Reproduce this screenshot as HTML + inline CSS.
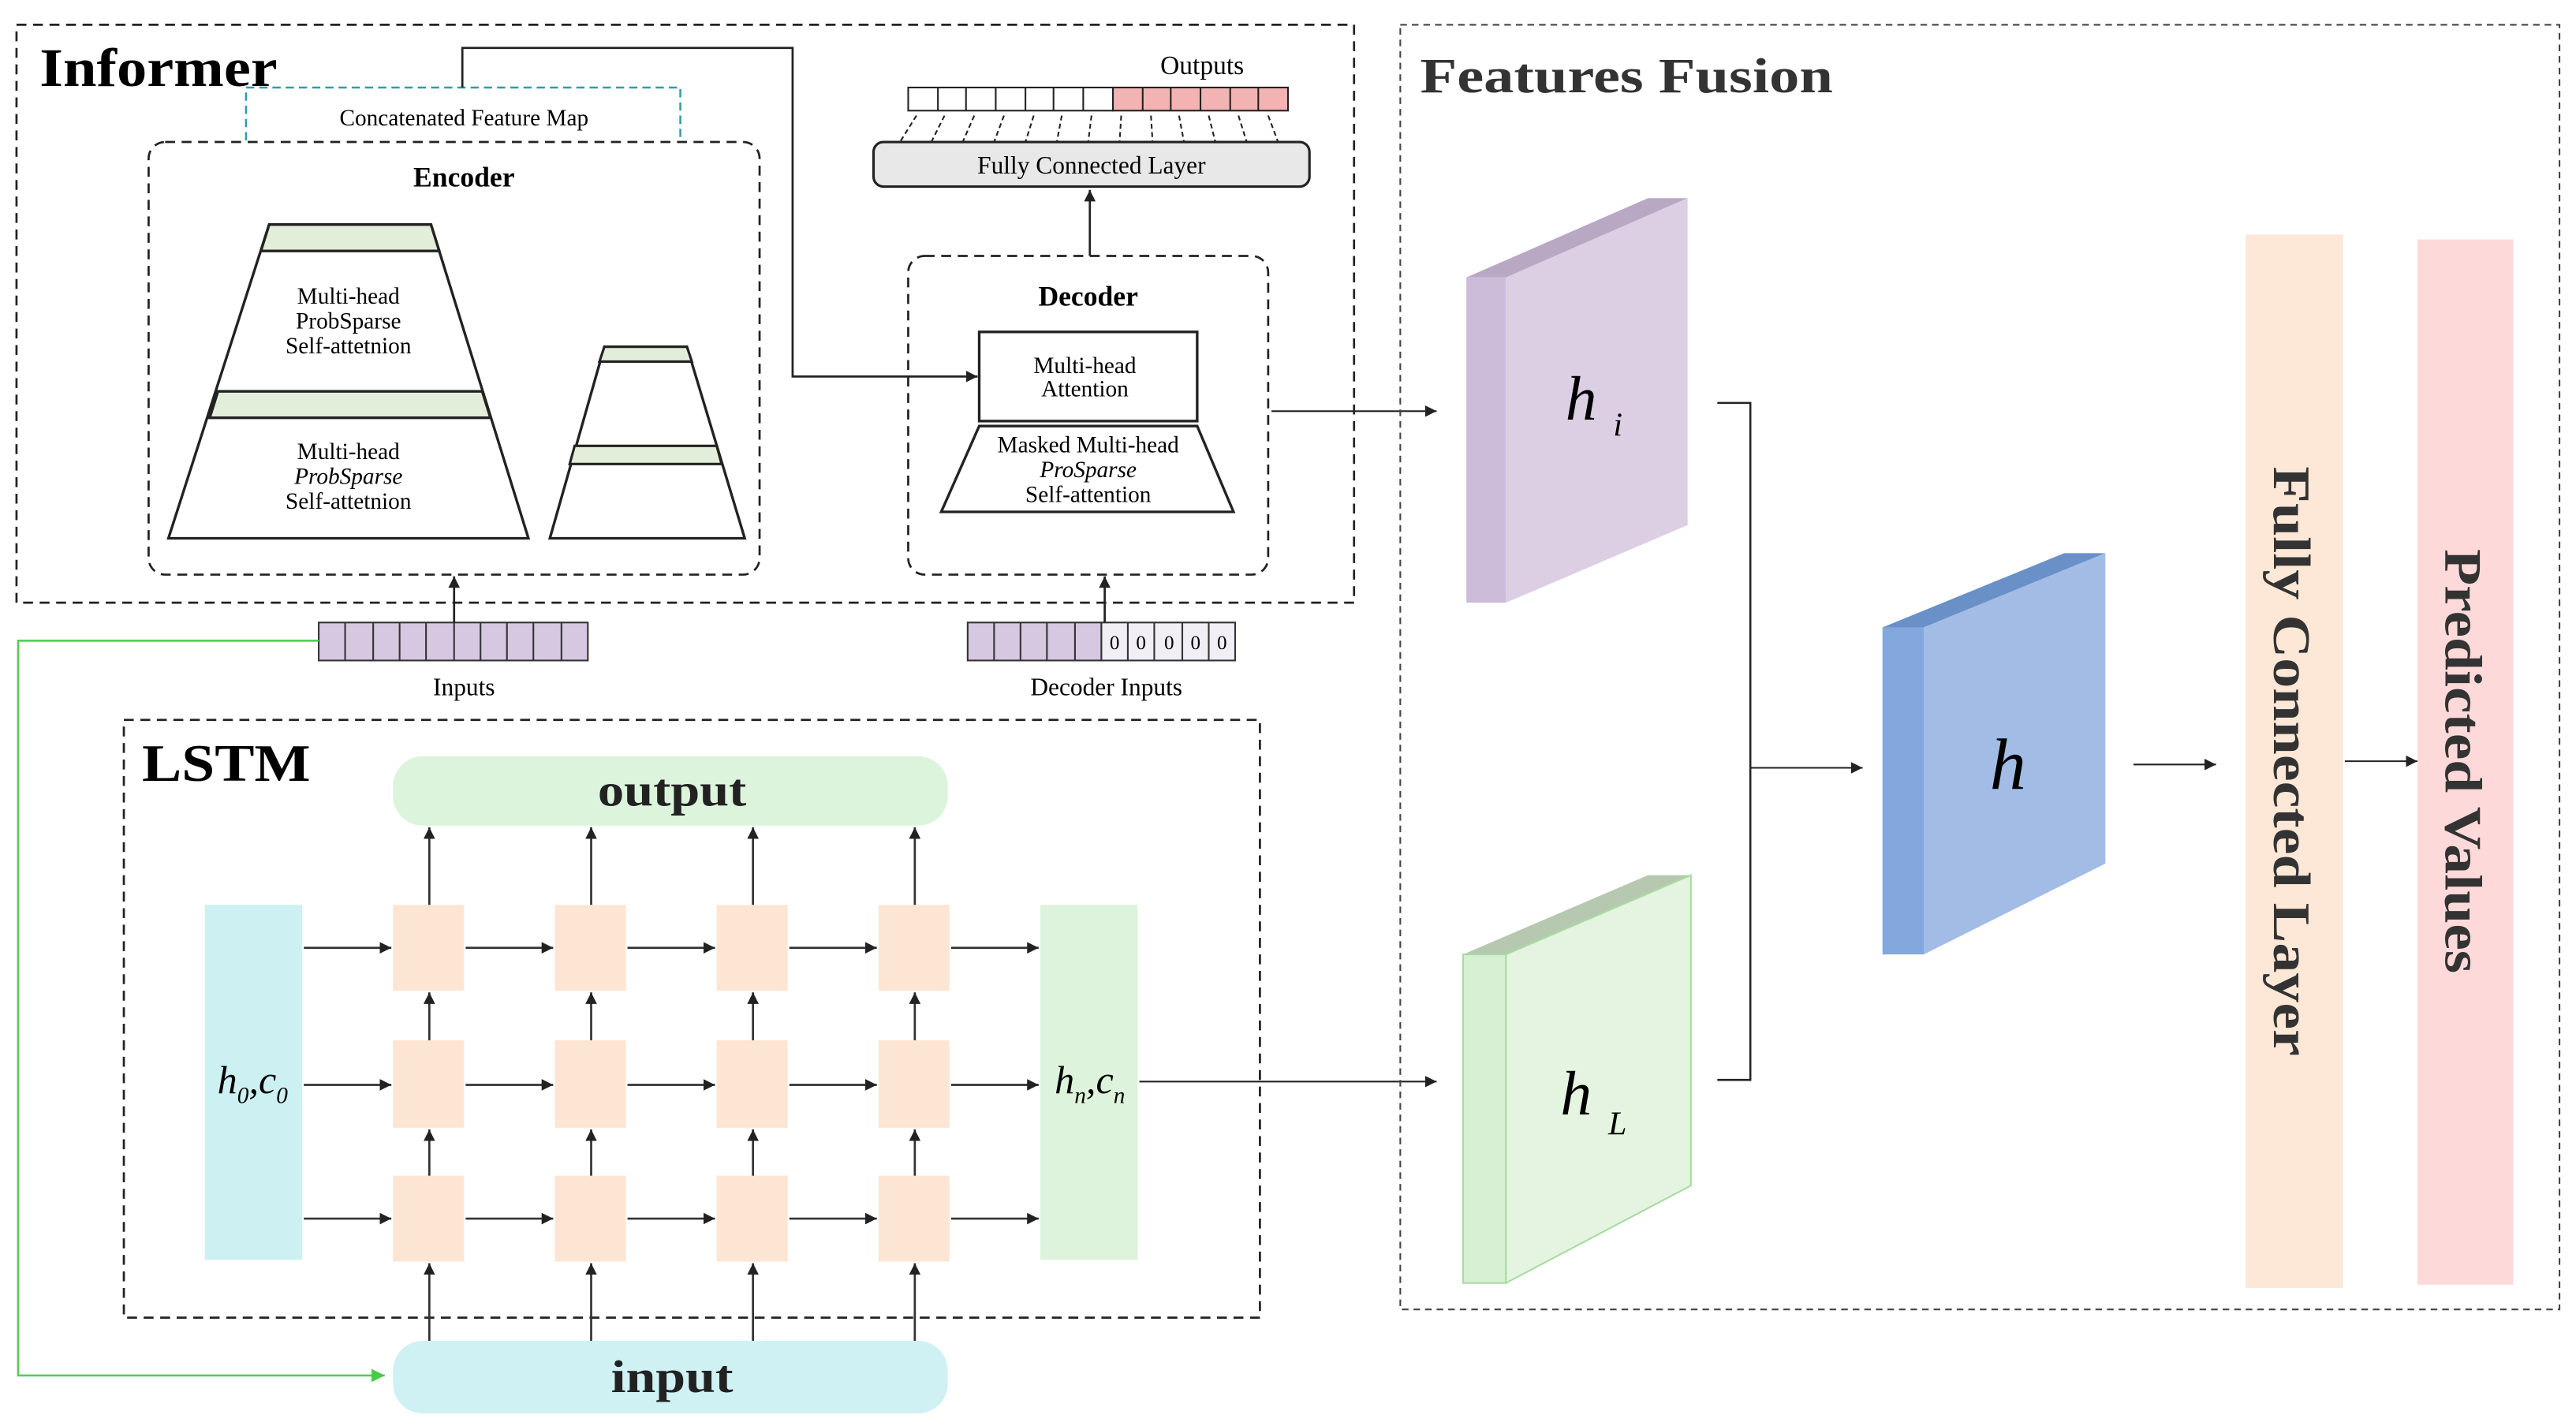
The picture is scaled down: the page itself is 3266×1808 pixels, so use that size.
<!DOCTYPE html>
<html><head><meta charset="utf-8"><style>html,body{margin:0;padding:0;background:#fff}svg{display:block}</style></head>
<body>
<svg width="3266" height="1808" viewBox="0 0 1560 863.6" preserveAspectRatio="none" xmlns="http://www.w3.org/2000/svg" font-family="'Liberation Serif', serif">
<defs>
<marker id="a" viewBox="0 0 10 10" refX="10" refY="5" markerWidth="7" markerHeight="7" markerUnits="userSpaceOnUse" orient="auto"><path d="M0,0L10,5L0,10z" fill="#222"/></marker>
<marker id="ag" viewBox="0 0 10 10" refX="10" refY="5" markerWidth="8" markerHeight="8" markerUnits="userSpaceOnUse" orient="auto"><path d="M0,0L10,5L0,10z" fill="#4c4"/></marker>
</defs>
<!-- Informer -->
<rect x="10" y="15" width="810" height="350" fill="none" stroke="#222" stroke-width="1.3" stroke-dasharray="6,4"/>
<text x="24" y="52" font-size="33" font-weight="bold" textLength="144" lengthAdjust="spacingAndGlyphs">Informer</text>
<path d="M149,85V53H412V85" fill="none" stroke="#2a9fa8" stroke-width="1.2" stroke-dasharray="5,3"/>
<text x="281" y="76" font-size="14" text-anchor="middle">Concatenated Feature Map</text>
<path d="M280,53V29H480V228H592" fill="none" stroke="#222" stroke-width="1.3" marker-end="url(#a)"/>
<rect x="90" y="86" width="370" height="262" rx="10" fill="none" stroke="#222" stroke-width="1.3" stroke-dasharray="6,4"/>
<text x="281" y="113" font-size="17" font-weight="bold" text-anchor="middle">Encoder</text>
<polygon points="163,136 261,136 320,326 102,326" fill="#fff" stroke="#222" stroke-width="1.6"/>
<polygon points="163,136 261,136 266,152 158,152" fill="#e2eed9" stroke="#222" stroke-width="1.6"/>
<polygon points="132,237 292,237 297,253 127,253" fill="#e2eed9" stroke="#222" stroke-width="1.6"/>
<g font-size="14" text-anchor="middle"><text x="211" y="184">Multi-head</text><text x="211" y="199">ProbSparse</text><text x="211" y="214">Self-attetnion</text>
<text x="211" y="278">Multi-head</text><text x="211" y="293" font-style="italic">ProbSparse</text><text x="211" y="308">Self-attetnion</text></g>
<polygon points="366,210 416,210 451,326 333,326" fill="#fff" stroke="#222" stroke-width="1.6"/>
<polygon points="366,210 416,210 419,219 363,219" fill="#e2eed9" stroke="#222" stroke-width="1.5"/>
<polygon points="348,270 434,270 437,281 345,281" fill="#e2eed9" stroke="#222" stroke-width="1.5"/>
<!-- Decoder -->
<rect x="550" y="155" width="218" height="193" rx="10" fill="none" stroke="#222" stroke-width="1.3" stroke-dasharray="6,4"/>
<text x="659" y="185" font-size="17" font-weight="bold" text-anchor="middle">Decoder</text>
<rect x="593" y="201" width="132" height="54" fill="#fff" stroke="#222" stroke-width="1.6"/>
<text x="657" y="226" font-size="14" text-anchor="middle">Multi-head</text><text x="657" y="240" font-size="14" text-anchor="middle">Attention</text>
<polygon points="593,258 725,258 747,310 570,310" fill="#fff" stroke="#222" stroke-width="1.6"/>
<g font-size="14" text-anchor="middle"><text x="659" y="274">Masked Multi-head</text><text x="659" y="289" font-style="italic">ProSparse</text><text x="659" y="304">Self-attention</text></g>
<line x1="660" y1="155" x2="660" y2="115" stroke="#222" stroke-width="1.3" marker-end="url(#a)"/>
<rect x="529" y="86" width="264" height="27" rx="6" fill="#e8e8e8" stroke="#222" stroke-width="1.5"/>
<text x="661" y="105" font-size="15" text-anchor="middle">Fully Connected Layer</text>
<text x="728" y="45" font-size="16" text-anchor="middle">Outputs</text>
<g stroke="#222" stroke-width="1">
<rect x="550" y="53" width="124" height="14" fill="#fff"/><rect x="674" y="53" width="106" height="14" fill="#f4b3b3"/>
<path d="M568,53V67M585,53V67M603,53V67M621,53V67M638,53V67M656,53V67M692,53V67M709,53V67M727,53V67M745,53V67M762,53V67"/>
<path d="M555,70L545,86M572,70L564,86M590,70L583,86M608,70L602,86M626,70L621,86M643,70L640,86M661,70L659,86M679,70L678,86M697,70L698,86M714,70L717,86M732,70L736,86M750,70L755,86M768,70L774,86" stroke-dasharray="3,2"/>
</g>
<!-- inputs -->
<g stroke="#333" stroke-width="1">
<rect x="193" y="377" width="163" height="23" fill="#d5c8e0"/>
<path d="M209,377V400M226,377V400M242,377V400M258,377V400M275,377V400M291,377V400M307,377V400M323,377V400M340,377V400"/>
<rect x="586" y="377" width="81" height="23" fill="#d5c8e0"/><rect x="667" y="377" width="81" height="23" fill="#f2eef6"/>
<path d="M602,377V400M618,377V400M634,377V400M651,377V400M683,377V400M699,377V400M716,377V400M732,377V400"/>
</g>
<g font-size="12" text-anchor="middle"><text x="675" y="393">0</text><text x="691" y="393">0</text><text x="708" y="393">0</text><text x="724" y="393">0</text><text x="740" y="393">0</text></g>
<line x1="275" y1="377" x2="275" y2="349" stroke="#222" stroke-width="1.3" marker-end="url(#a)"/>
<line x1="669" y1="377" x2="669" y2="349" stroke="#222" stroke-width="1.3" marker-end="url(#a)"/>
<text x="281" y="421" font-size="15" text-anchor="middle">Inputs</text>
<text x="670" y="421" font-size="15" text-anchor="middle">Decoder Inputs</text>
<path d="M193,388H11V833H233" fill="none" stroke="#5c5" stroke-width="1.3" marker-end="url(#ag)"/>
<line x1="770" y1="249" x2="870" y2="249" stroke="#222" stroke-width="1" marker-end="url(#a)"/>
<!-- LSTM -->
<rect x="75" y="436" width="688" height="362" fill="none" stroke="#222" stroke-width="1.3" stroke-dasharray="6,4"/>
<text x="86" y="473" font-size="32" font-weight="bold" textLength="102" lengthAdjust="spacingAndGlyphs">LSTM</text>
<rect x="238" y="458" width="336" height="42" rx="18" fill="#dcf3dc"/>
<text x="407" y="488" font-size="28" font-weight="bold" text-anchor="middle" fill="#222" textLength="90" lengthAdjust="spacingAndGlyphs">output</text>
<rect x="238" y="812" width="336" height="44" rx="18" fill="#cff1f3"/>
<text x="407" y="843" font-size="28" font-weight="bold" text-anchor="middle" fill="#222" textLength="74" lengthAdjust="spacingAndGlyphs">input</text>
<rect x="124" y="548" width="59" height="215" fill="#cdf0f2"/>
<rect x="630" y="548" width="59" height="215" fill="#ddf3db"/>
<text x="153" y="662" font-size="24" font-style="italic" text-anchor="middle">h<tspan font-size="14" dy="6">0</tspan><tspan dy="-6">,c</tspan><tspan font-size="14" dy="6">0</tspan></text>
<text x="660" y="662" font-size="24" font-style="italic" text-anchor="middle">h<tspan font-size="14" dy="6">n</tspan><tspan dy="-6">,c</tspan><tspan font-size="14" dy="6">n</tspan></text>
<g fill="#fde5d3">
<rect x="238" y="548" width="43" height="52"/><rect x="336" y="548" width="43" height="52"/><rect x="434" y="548" width="43" height="52"/><rect x="532" y="548" width="43" height="52"/>
<rect x="238" y="630" width="43" height="53"/><rect x="336" y="630" width="43" height="53"/><rect x="434" y="630" width="43" height="53"/><rect x="532" y="630" width="43" height="53"/>
<rect x="238" y="712" width="43" height="52"/><rect x="336" y="712" width="43" height="52"/><rect x="434" y="712" width="43" height="52"/><rect x="532" y="712" width="43" height="52"/>
</g>
<g stroke="#333" stroke-width="1.3" marker-end="url(#a)">
<line x1="184" y1="574" x2="237" y2="574"/><line x1="282" y1="574" x2="335" y2="574"/><line x1="380" y1="574" x2="433" y2="574"/><line x1="478" y1="574" x2="531" y2="574"/><line x1="576" y1="574" x2="629" y2="574"/>
<line x1="184" y1="657" x2="237" y2="657"/><line x1="282" y1="657" x2="335" y2="657"/><line x1="380" y1="657" x2="433" y2="657"/><line x1="478" y1="657" x2="531" y2="657"/><line x1="576" y1="657" x2="629" y2="657"/>
<line x1="184" y1="738" x2="237" y2="738"/><line x1="282" y1="738" x2="335" y2="738"/><line x1="380" y1="738" x2="433" y2="738"/><line x1="478" y1="738" x2="531" y2="738"/><line x1="576" y1="738" x2="629" y2="738"/>
<line x1="260" y1="812" x2="260" y2="765"/><line x1="358" y1="812" x2="358" y2="765"/><line x1="456" y1="812" x2="456" y2="765"/><line x1="554" y1="812" x2="554" y2="765"/>
<line x1="260" y1="712" x2="260" y2="684"/><line x1="358" y1="712" x2="358" y2="684"/><line x1="456" y1="712" x2="456" y2="684"/><line x1="554" y1="712" x2="554" y2="684"/>
<line x1="260" y1="630" x2="260" y2="601"/><line x1="358" y1="630" x2="358" y2="601"/><line x1="456" y1="630" x2="456" y2="601"/><line x1="554" y1="630" x2="554" y2="601"/>
<line x1="260" y1="548" x2="260" y2="501"/><line x1="358" y1="548" x2="358" y2="501"/><line x1="456" y1="548" x2="456" y2="501"/><line x1="554" y1="548" x2="554" y2="501"/>
</g>
<line x1="690" y1="655" x2="870" y2="655" stroke="#222" stroke-width="1" marker-end="url(#a)"/>
<!-- Features Fusion -->
<rect x="848" y="15" width="702" height="778" fill="none" stroke="#444" stroke-width="1" stroke-dasharray="4,3"/>
<text x="860" y="56" font-size="30" font-weight="bold" fill="#333" textLength="250" lengthAdjust="spacingAndGlyphs">Features Fusion</text>
<!-- h_i -->
<polygon points="888,168 912,168 1022,120 998,120" fill="#b8a8c4"/>
<rect x="888" y="168" width="24" height="197" fill="#cdbcd9"/>
<polygon points="912,168 1022,120 1022,318 912,365" fill="#dccfe4"/>
<text x="948" y="254" font-size="38" font-style="italic">h<tspan font-size="20" dx="10" dy="10">i</tspan></text>
<!-- h_L -->
<polygon points="886,578 912,578 1024,530 998,530" fill="#b6c9b0"/>
<rect x="886" y="578" width="26" height="199" fill="#d7f0d3" stroke="#a8dba0" stroke-width="1"/>
<polygon points="912,578 1024,530 1024,718 912,777" fill="#e4f4e0" stroke="#a8dba0" stroke-width="1"/>
<text x="945" y="675" font-size="38" font-style="italic">h<tspan font-size="20" dx="10" dy="12">L</tspan></text>
<!-- h -->
<polygon points="1140,380 1165,380 1275,335 1250,335" fill="#6a90c8"/>
<rect x="1140" y="380" width="25" height="198" fill="#82a8de"/>
<polygon points="1165,380 1275,335 1275,523 1165,578" fill="#a2bce6"/>
<text x="1205" y="478" font-size="44" font-style="italic">h</text>
<path d="M1040,244H1060V654H1040" fill="none" stroke="#222" stroke-width="1.2"/>
<line x1="1060" y1="465" x2="1128" y2="465" stroke="#222" stroke-width="1" marker-end="url(#a)"/>
<line x1="1292" y1="463" x2="1342" y2="463" stroke="#222" stroke-width="1" marker-end="url(#a)"/>
<rect x="1360" y="142" width="59" height="638" fill="#fde7d6"/>
<rect x="1464" y="145" width="58" height="633" fill="#fed9d9"/>
<line x1="1420" y1="461" x2="1464" y2="461" stroke="#222" stroke-width="1" marker-end="url(#a)"/>
<text transform="translate(1377,461) rotate(90)" font-size="32" font-weight="bold" fill="#333" text-anchor="middle" textLength="357" lengthAdjust="spacingAndGlyphs">Fully Connected Layer</text>
<text transform="translate(1481,461) rotate(90)" font-size="32" font-weight="bold" fill="#333" text-anchor="middle" textLength="257" lengthAdjust="spacingAndGlyphs">Predicted Values</text>
</svg>
</body></html>
